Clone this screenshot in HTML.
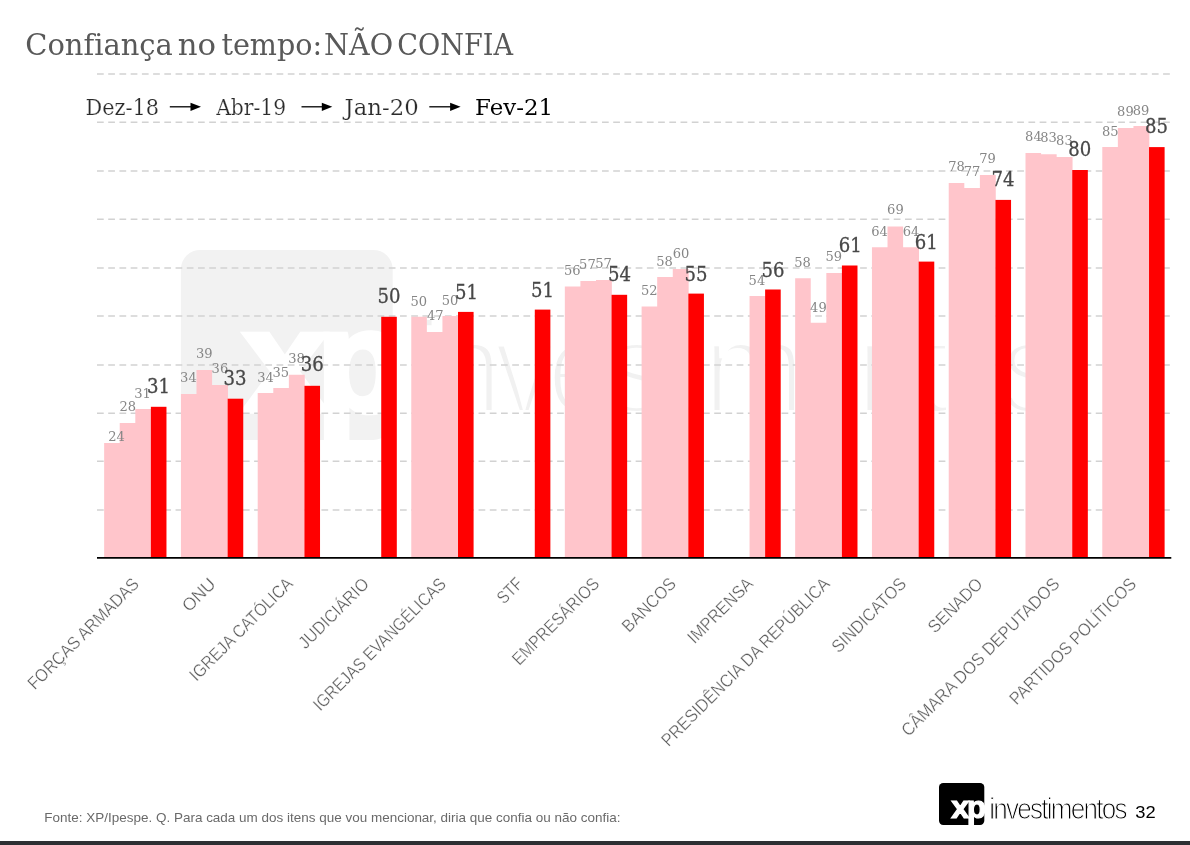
<!DOCTYPE html>
<html lang="pt-BR"><head><meta charset="utf-8"><title>Confiança no tempo: NÃO CONFIA</title>
<style>html,body{margin:0;padding:0;background:#fff}body{width:1190px;height:845px;overflow:hidden}svg{display:block}</style></head><body>
<svg width="1190" height="845" viewBox="0 0 1190 845">
<rect width="1190" height="845" fill="#fff"/>
<g transform="translate(180.9 249.9) scale(4.675 4.526)">
<rect x="0" y="0" width="45.3" height="42" rx="4.2" fill="#f2f2f2"/>
<text x="13.30" y="35.6" font-family="Liberation Sans, DejaVu Sans, sans-serif" font-weight="bold" font-size="32" fill="#fff" stroke="#fff" stroke-width="1.2" textLength="18.0" lengthAdjust="spacingAndGlyphs">x</text>
<text x="29.00" y="35.6" font-family="Liberation Sans, DejaVu Sans, sans-serif" font-weight="bold" font-size="32" fill="#fff" stroke="#fff" stroke-width="1.2" textLength="19.0" lengthAdjust="spacingAndGlyphs">p</text>
<rect x="30.70" y="35" width="5.2" height="8.5" fill="#fff"/>
<g transform="translate(50.2 36) scale(0.9 1)"><text x="0" y="0" font-family="Liberation Sans, DejaVu Sans, sans-serif" font-size="29" fill="#f1f1f1" stroke="#fff" stroke-width="1.3" textLength="153.6" lengthAdjust="spacing">investimentos</text></g>
</g>
<g stroke="#d2d2d2" stroke-width="1.6" stroke-dasharray="6.73 4.492" fill="none">
<path d="M97 74.00H1170"/>
<path d="M97 122.25H1170"/>
<path d="M97 171.00H1170"/>
<path d="M97 219.25H1170"/>
<path d="M97 268.00H1170"/>
<path d="M97 316.00H1170"/>
<path d="M97 365.00H1170"/>
<path d="M97 413.25H1170"/>
<path d="M97 461.25H1170"/>
<path d="M97 510.00H1170"/>
</g>
<g>
<path d="M104.15 557.8L104.15 443.0L119.73 443.0L119.73 422.9L135.31 422.9L135.31 409.1L151.19 409.1L151.19 557.8Z" fill="#ffc5cb"/>
<rect x="150.89" y="406.8" width="15.58" height="151.0" fill="#ff0000"/>
<path d="M180.93 557.8L180.93 394.0L196.51 394.0L196.51 370.1L212.09 370.1L212.09 385.0L227.97 385.0L227.97 557.8Z" fill="#ffc5cb"/>
<rect x="227.67" y="398.7" width="15.58" height="159.1" fill="#ff0000"/>
<path d="M257.71 557.8L257.71 392.9L273.29 392.9L273.29 388.1L288.87 388.1L288.87 374.8L304.75 374.8L304.75 557.8Z" fill="#ffc5cb"/>
<rect x="304.45" y="385.8" width="15.58" height="172.0" fill="#ff0000"/>
<rect x="381.23" y="316.8" width="15.58" height="241.0" fill="#ff0000"/>
<path d="M411.27 557.8L411.27 316.8L426.85 316.8L426.85 332.1L442.43 332.1L442.43 316.0L458.31 316.0L458.31 557.8Z" fill="#ffc5cb"/>
<rect x="458.01" y="311.9" width="15.58" height="245.9" fill="#ff0000"/>
<rect x="534.79" y="309.6" width="15.58" height="248.2" fill="#ff0000"/>
<path d="M564.83 557.8L564.83 286.6L580.41 286.6L580.41 281.0L595.99 281.0L595.99 280.1L611.87 280.1L611.87 557.8Z" fill="#ffc5cb"/>
<rect x="611.57" y="294.8" width="15.58" height="263.0" fill="#ff0000"/>
<path d="M641.61 557.8L641.61 306.5L657.19 306.5L657.19 277.0L672.77 277.0L672.77 269.0L688.65 269.0L688.65 557.8Z" fill="#ffc5cb"/>
<rect x="688.35" y="293.6" width="15.58" height="264.2" fill="#ff0000"/>
<path d="M749.55 557.8L749.55 296.1L765.43 296.1L765.43 557.8Z" fill="#ffc5cb"/>
<rect x="765.13" y="289.5" width="15.58" height="268.3" fill="#ff0000"/>
<path d="M795.17 557.8L795.17 278.3L810.75 278.3L810.75 322.8L826.33 322.8L826.33 272.9L842.21 272.9L842.21 557.8Z" fill="#ffc5cb"/>
<rect x="841.91" y="265.5" width="15.58" height="292.3" fill="#ff0000"/>
<path d="M871.95 557.8L871.95 247.2L887.53 247.2L887.53 226.4L903.11 226.4L903.11 247.2L918.99 247.2L918.99 557.8Z" fill="#ffc5cb"/>
<rect x="918.69" y="261.6" width="15.58" height="296.2" fill="#ff0000"/>
<path d="M948.73 557.8L948.73 183.1L964.31 183.1L964.31 188.1L979.89 188.1L979.89 175.0L995.77 175.0L995.77 557.8Z" fill="#ffc5cb"/>
<rect x="995.47" y="199.9" width="15.58" height="357.9" fill="#ff0000"/>
<path d="M1025.51 557.8L1025.51 152.9L1041.09 152.9L1041.09 154.2L1056.67 154.2L1056.67 156.9L1072.55 156.9L1072.55 557.8Z" fill="#ffc5cb"/>
<rect x="1072.25" y="170.0" width="15.58" height="387.8" fill="#ff0000"/>
<path d="M1102.29 557.8L1102.29 147.1L1117.87 147.1L1117.87 128.1L1133.45 128.1L1133.45 126.1L1149.33 126.1L1149.33 557.8Z" fill="#ffc5cb"/>
<rect x="1149.03" y="147.1" width="15.58" height="410.7" fill="#ff0000"/>
</g>
<path d="M97 557.9H1171.3" stroke="#000" stroke-width="1.8"/>
<g font-family="DejaVu Serif, Liberation Serif, serif" text-anchor="middle">
<text x="116.5" y="441.0" font-size="13.1" fill="#868686" textLength="16.6" lengthAdjust="spacingAndGlyphs">24</text>
<text x="127.7" y="410.7" font-size="13.1" fill="#868686" textLength="16.6" lengthAdjust="spacingAndGlyphs">28</text>
<text x="142.6" y="397.6" font-size="13.1" fill="#868686" textLength="16.6" lengthAdjust="spacingAndGlyphs">31</text>
<text x="158.6" y="392.9" font-size="19.8" fill="#484848" stroke="#484848" stroke-width="0.3" textLength="23.0" lengthAdjust="spacingAndGlyphs">31</text>
<text x="188.4" y="382.2" font-size="13.1" fill="#868686" textLength="16.6" lengthAdjust="spacingAndGlyphs">34</text>
<text x="204.3" y="358.4" font-size="13.1" fill="#868686" textLength="16.6" lengthAdjust="spacingAndGlyphs">39</text>
<text x="219.9" y="373.4" font-size="13.1" fill="#868686" textLength="16.6" lengthAdjust="spacingAndGlyphs">36</text>
<text x="235.0" y="385.3" font-size="19.8" fill="#484848" stroke="#484848" stroke-width="0.3" textLength="23.0" lengthAdjust="spacingAndGlyphs">33</text>
<text x="265.6" y="381.5" font-size="13.1" fill="#868686" textLength="16.6" lengthAdjust="spacingAndGlyphs">34</text>
<text x="280.8" y="376.8" font-size="13.1" fill="#868686" textLength="16.6" lengthAdjust="spacingAndGlyphs">35</text>
<text x="296.6" y="363.2" font-size="13.1" fill="#868686" textLength="16.6" lengthAdjust="spacingAndGlyphs">38</text>
<text x="312.2" y="371.4" font-size="19.8" fill="#484848" stroke="#484848" stroke-width="0.3" textLength="23.0" lengthAdjust="spacingAndGlyphs">36</text>
<text x="389.0" y="302.9" font-size="19.8" fill="#484848" stroke="#484848" stroke-width="0.3" textLength="23.0" lengthAdjust="spacingAndGlyphs">50</text>
<text x="418.7" y="305.6" font-size="13.1" fill="#868686" textLength="16.6" lengthAdjust="spacingAndGlyphs">50</text>
<text x="435.2" y="319.7" font-size="13.1" fill="#868686" textLength="16.6" lengthAdjust="spacingAndGlyphs">47</text>
<text x="450.0" y="304.7" font-size="13.1" fill="#868686" textLength="16.6" lengthAdjust="spacingAndGlyphs">50</text>
<text x="466.6" y="298.6" font-size="19.8" fill="#484848" stroke="#484848" stroke-width="0.3" textLength="23.0" lengthAdjust="spacingAndGlyphs">51</text>
<text x="542.5" y="296.5" font-size="19.8" fill="#484848" stroke="#484848" stroke-width="0.3" textLength="23.0" lengthAdjust="spacingAndGlyphs">51</text>
<text x="572.2" y="274.9" font-size="13.1" fill="#868686" textLength="16.6" lengthAdjust="spacingAndGlyphs">56</text>
<text x="587.4" y="269.2" font-size="13.1" fill="#868686" textLength="16.6" lengthAdjust="spacingAndGlyphs">57</text>
<text x="603.5" y="268.2" font-size="13.1" fill="#868686" textLength="16.6" lengthAdjust="spacingAndGlyphs">57</text>
<text x="619.4" y="281.4" font-size="19.8" fill="#484848" stroke="#484848" stroke-width="0.3" textLength="23.0" lengthAdjust="spacingAndGlyphs">54</text>
<text x="649.2" y="295.1" font-size="13.1" fill="#868686" textLength="16.6" lengthAdjust="spacingAndGlyphs">52</text>
<text x="664.6" y="265.5" font-size="13.1" fill="#868686" textLength="16.6" lengthAdjust="spacingAndGlyphs">58</text>
<text x="681.0" y="257.6" font-size="13.1" fill="#868686" textLength="16.6" lengthAdjust="spacingAndGlyphs">60</text>
<text x="696.0" y="280.8" font-size="19.8" fill="#484848" stroke="#484848" stroke-width="0.3" textLength="23.0" lengthAdjust="spacingAndGlyphs">55</text>
<text x="756.9" y="284.8" font-size="13.1" fill="#868686" textLength="16.6" lengthAdjust="spacingAndGlyphs">54</text>
<text x="772.9" y="276.6" font-size="19.8" fill="#484848" stroke="#484848" stroke-width="0.3" textLength="23.0" lengthAdjust="spacingAndGlyphs">56</text>
<text x="802.6" y="267.2" font-size="13.1" fill="#868686" textLength="16.6" lengthAdjust="spacingAndGlyphs">58</text>
<text x="818.4" y="312.2" font-size="13.1" fill="#868686" textLength="16.6" lengthAdjust="spacingAndGlyphs">49</text>
<text x="833.7" y="261.4" font-size="13.1" fill="#868686" textLength="16.6" lengthAdjust="spacingAndGlyphs">59</text>
<text x="850.2" y="252.2" font-size="19.8" fill="#484848" stroke="#484848" stroke-width="0.3" textLength="23.0" lengthAdjust="spacingAndGlyphs">61</text>
<text x="879.5" y="235.8" font-size="13.1" fill="#868686" textLength="16.6" lengthAdjust="spacingAndGlyphs">64</text>
<text x="895.4" y="214.3" font-size="13.1" fill="#868686" textLength="16.6" lengthAdjust="spacingAndGlyphs">69</text>
<text x="911.1" y="235.8" font-size="13.1" fill="#868686" textLength="16.6" lengthAdjust="spacingAndGlyphs">64</text>
<text x="926.3" y="248.6" font-size="19.8" fill="#484848" stroke="#484848" stroke-width="0.3" textLength="23.0" lengthAdjust="spacingAndGlyphs">61</text>
<text x="956.5" y="171.4" font-size="13.1" fill="#868686" textLength="16.6" lengthAdjust="spacingAndGlyphs">78</text>
<text x="972.0" y="176.4" font-size="13.1" fill="#868686" textLength="16.6" lengthAdjust="spacingAndGlyphs">77</text>
<text x="987.5" y="163.3" font-size="13.1" fill="#868686" textLength="16.6" lengthAdjust="spacingAndGlyphs">79</text>
<text x="1002.9" y="185.8" font-size="19.8" fill="#484848" stroke="#484848" stroke-width="0.3" textLength="23.0" lengthAdjust="spacingAndGlyphs">74</text>
<text x="1033.4" y="141.4" font-size="13.1" fill="#868686" textLength="16.6" lengthAdjust="spacingAndGlyphs">84</text>
<text x="1048.5" y="142.4" font-size="13.1" fill="#868686" textLength="16.6" lengthAdjust="spacingAndGlyphs">83</text>
<text x="1064.4" y="144.8" font-size="13.1" fill="#868686" textLength="16.6" lengthAdjust="spacingAndGlyphs">83</text>
<text x="1079.8" y="155.5" font-size="19.8" fill="#484848" stroke="#484848" stroke-width="0.3" textLength="23.0" lengthAdjust="spacingAndGlyphs">80</text>
<text x="1110.3" y="135.6" font-size="13.1" fill="#868686" textLength="16.6" lengthAdjust="spacingAndGlyphs">85</text>
<text x="1125.4" y="116.3" font-size="13.1" fill="#868686" textLength="16.6" lengthAdjust="spacingAndGlyphs">89</text>
<text x="1141.0" y="114.5" font-size="13.1" fill="#868686" textLength="16.6" lengthAdjust="spacingAndGlyphs">89</text>
<text x="1156.6" y="133.2" font-size="19.8" fill="#484848" stroke="#484848" stroke-width="0.3" textLength="23.0" lengthAdjust="spacingAndGlyphs">85</text>
</g>
<g font-family="DejaVu Serif, Liberation Serif, serif" font-size="30" fill="#595959">
<text x="25.22" y="55.4" textLength="147.65" lengthAdjust="spacingAndGlyphs" font-family="DejaVu Serif, Liberation Serif, serif" font-size="30" style="font-variant-ligatures:none">Confiança</text>
<text x="177.77" y="55.4" textLength="38.39" lengthAdjust="spacingAndGlyphs" font-family="DejaVu Serif, Liberation Serif, serif" font-size="30" style="font-variant-ligatures:none">no</text>
<text x="221.42" y="55.4" textLength="100.75" lengthAdjust="spacingAndGlyphs" font-family="DejaVu Serif, Liberation Serif, serif" font-size="30" style="font-variant-ligatures:none">tempo:</text>
<text x="324.04" y="55.4" textLength="69.03" lengthAdjust="spacingAndGlyphs" font-family="DejaVu Serif, Liberation Serif, serif" font-size="30" style="font-variant-ligatures:none">NÃO</text>
<text x="397.33" y="55.4" textLength="115.72" lengthAdjust="spacingAndGlyphs" font-family="DejaVu Serif, Liberation Serif, serif" font-size="30" style="font-variant-ligatures:none">CONFIA</text>
</g>
<g font-family="DejaVu Serif, Liberation Serif, serif" font-size="22" fill="#2b2b2b" stroke="#fff" stroke-width="0.2">
<text x="85.51" y="114.8" textLength="73.59" lengthAdjust="spacingAndGlyphs" font-family="DejaVu Serif, Liberation Serif, serif" font-size="22">Dez-18</text>
<text x="216.15" y="114.8" textLength="69.93" lengthAdjust="spacingAndGlyphs" font-family="DejaVu Serif, Liberation Serif, serif" font-size="22">Abr-19</text>
<text x="344.64" y="114.8" textLength="74.15" lengthAdjust="spacingAndGlyphs" font-family="DejaVu Serif, Liberation Serif, serif" font-size="22">Jan-20</text>
<text x="475.13" y="114.8" textLength="77.91" lengthAdjust="spacingAndGlyphs" font-family="DejaVu Serif, Liberation Serif, serif" font-size="22" fill="#000" stroke="none">Fev-21</text>
</g>
<path d="M169.8 106.8H193.0" stroke="#000" stroke-width="1.3"/><path d="M201.0 106.8L190.5 102.7V110.89999999999999Z" fill="#000"/>
<path d="M301.5 106.8H324.3" stroke="#000" stroke-width="1.3"/><path d="M332.3 106.8L321.8 102.7V110.89999999999999Z" fill="#000"/>
<path d="M429.3 106.8H452.6" stroke="#000" stroke-width="1.3"/><path d="M460.6 106.8L450.1 102.7V110.89999999999999Z" fill="#000"/>
<g font-family="Liberation Sans, DejaVu Sans, sans-serif" fill="#5c5c5c" stroke="#fff" stroke-width="0.3">
<g transform="translate(135.8 580.5) rotate(-45)"><text x="-149.30" y="6.3" textLength="149.11" lengthAdjust="spacingAndGlyphs" font-family="Liberation Sans, DejaVu Sans, sans-serif" font-size="17.8">FORÇAS ARMADAS</text></g>
<g transform="translate(212.5 580.5) rotate(-45)"><text x="-39.22" y="6.3" textLength="38.88" lengthAdjust="spacingAndGlyphs" font-family="Liberation Sans, DejaVu Sans, sans-serif" font-size="17.8">ONU</text></g>
<g transform="translate(289.2 580.5) rotate(-45)"><text x="-137.30" y="6.3" textLength="137.49" lengthAdjust="spacingAndGlyphs" font-family="Liberation Sans, DejaVu Sans, sans-serif" font-size="17.8">IGREJA CATÓLICA</text></g>
<g transform="translate(365.9 580.5) rotate(-45)"><text x="-91.59" y="6.3" textLength="91.20" lengthAdjust="spacingAndGlyphs" font-family="Liberation Sans, DejaVu Sans, sans-serif" font-size="17.8">JUDICIÁRIO</text></g>
<g transform="translate(442.6 580.5) rotate(-45)"><text x="-179.41" y="6.3" textLength="179.28" lengthAdjust="spacingAndGlyphs" font-family="Liberation Sans, DejaVu Sans, sans-serif" font-size="17.8">IGREJAS EVANGÉLICAS</text></g>
<g transform="translate(519.3 580.5) rotate(-45)"><text x="-27.89" y="6.3" textLength="28.00" lengthAdjust="spacingAndGlyphs" font-family="Liberation Sans, DejaVu Sans, sans-serif" font-size="17.8">STF</text></g>
<g transform="translate(596.0 580.5) rotate(-45)"><text x="-114.89" y="6.3" textLength="114.85" lengthAdjust="spacingAndGlyphs" font-family="Liberation Sans, DejaVu Sans, sans-serif" font-size="17.8">EMPRESÁRIOS</text></g>
<g transform="translate(672.8 580.5) rotate(-45)"><text x="-68.14" y="6.3" textLength="68.07" lengthAdjust="spacingAndGlyphs" font-family="Liberation Sans, DejaVu Sans, sans-serif" font-size="17.8">BANCOS</text></g>
<g transform="translate(749.5 580.5) rotate(-45)"><text x="-84.05" y="6.3" textLength="84.22" lengthAdjust="spacingAndGlyphs" font-family="Liberation Sans, DejaVu Sans, sans-serif" font-size="17.8">IMPRENSA</text></g>
<g transform="translate(826.2 580.5) rotate(-45)"><text x="-229.51" y="6.3" textLength="229.61" lengthAdjust="spacingAndGlyphs" font-family="Liberation Sans, DejaVu Sans, sans-serif" font-size="17.8">PRESIDÊNCIA DA REPÚBLICA</text></g>
<g transform="translate(902.9 580.5) rotate(-45)"><text x="-97.12" y="6.3" textLength="97.05" lengthAdjust="spacingAndGlyphs" font-family="Liberation Sans, DejaVu Sans, sans-serif" font-size="17.8">SINDICATOS</text></g>
<g transform="translate(979.6 580.5) rotate(-45)"><text x="-69.31" y="6.3" textLength="68.92" lengthAdjust="spacingAndGlyphs" font-family="Liberation Sans, DejaVu Sans, sans-serif" font-size="17.8">SENADO</text></g>
<g transform="translate(1056.3 580.5) rotate(-45)"><text x="-215.40" y="6.3" textLength="215.24" lengthAdjust="spacingAndGlyphs" font-family="Liberation Sans, DejaVu Sans, sans-serif" font-size="17.8">CÂMARA DOS DEPUTADOS</text></g>
<g transform="translate(1133.0 580.5) rotate(-45)"><text x="-170.98" y="6.3" textLength="170.70" lengthAdjust="spacingAndGlyphs" font-family="Liberation Sans, DejaVu Sans, sans-serif" font-size="17.8">PARTIDOS POLÍTICOS</text></g>
</g>
<text x="44.35" y="821.8" textLength="576.06" lengthAdjust="spacingAndGlyphs" font-family="Liberation Sans, DejaVu Sans, sans-serif" font-size="13.4" fill="#6a6a6a">Fonte: XP/Ipespe. Q. Para cada um dos itens que vou mencionar, diria que confia ou não confia:</text>
<g transform="translate(939 782.9)">
<rect x="0" y="0" width="45.3" height="42" rx="4.2" fill="#000"/>
<text x="12.30" y="35.6" font-family="Liberation Sans, DejaVu Sans, sans-serif" font-weight="bold" font-size="32" fill="#fff" stroke="#fff" stroke-width="1.2" textLength="18.0" lengthAdjust="spacingAndGlyphs">x</text>
<text x="28.00" y="35.6" font-family="Liberation Sans, DejaVu Sans, sans-serif" font-weight="bold" font-size="32" fill="#fff" stroke="#fff" stroke-width="1.2" textLength="19.0" lengthAdjust="spacingAndGlyphs">p</text>
<rect x="29.70" y="35" width="5.2" height="8.5" fill="#fff"/>
<g transform="translate(50.2 36) scale(0.9 1)"><text x="0" y="0" font-family="Liberation Sans, DejaVu Sans, sans-serif" font-size="29" fill="#000" stroke="#fff" stroke-width="1.05" textLength="153.6" lengthAdjust="spacing">investimentos</text></g>
</g>
<text x="1135.25" y="817.9" textLength="20.40" lengthAdjust="spacingAndGlyphs" font-family="Liberation Sans, DejaVu Sans, sans-serif" font-size="17.4" fill="#000">32</text>
<rect x="0" y="841" width="1190" height="4" fill="#2d2f33"/>
</svg></body></html>
